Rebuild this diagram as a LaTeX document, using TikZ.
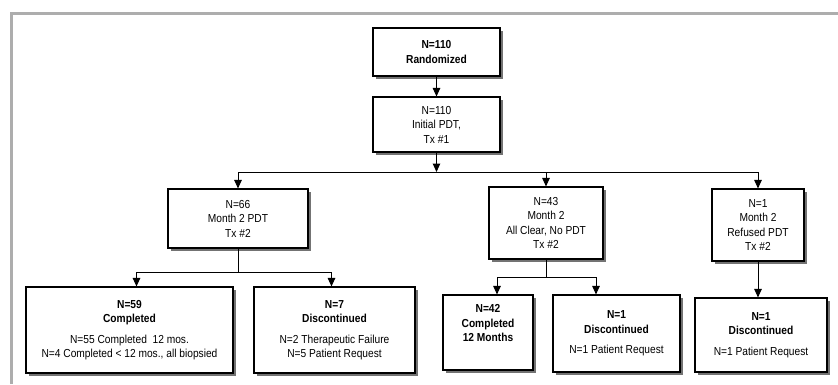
\documentclass[tikz,border=0pt]{standalone}
\usepackage{fontspec}
\setmainfont[FakeStretch=0.88]{Liberation Sans}
\usetikzlibrary{arrows.meta,shadows}
\begin{document}
\begin{tikzpicture}[x=1pt,y=-1pt,
  box/.style={draw=black, line width=1.1pt, fill=white, align=center, inner sep=2pt,
    font=\fontsize{11.6}{14.5}\selectfont,
    drop shadow={shadow xshift=3pt, shadow yshift=-3pt, fill=black!55, opacity=1}},
  arr/.style={line width=1pt, -{Triangle[width=7.5pt,length=8.5pt]}},
  ln/.style={line width=1pt}]
\useasboundingbox (0,0) rectangle (838,384);
\fill[white] (0,0) rectangle (838,384);
\draw[black!32, line width=3pt] (11,384) -- (11,13) -- (838,13);

\node[box, minimum width=127pt, minimum height=48pt] (r) at (436.5,52) {\textbf{N=110}\\\textbf{Randomized}};
\node[box, minimum width=127pt, minimum height=55pt] (i) at (436.5,124.5) {N=110\\Initial PDT,\\Tx \#1};
\node[box, minimum width=140pt, minimum height=59pt] (a) at (238,218.5) {N=66\\Month 2 PDT\\Tx \#2};
\node[box, minimum width=114pt, minimum height=72pt] (b) at (546,223) {N=43\\Month 2\\All Clear, No PDT\\Tx \#2};
\node[box, minimum width=92pt, minimum height=72pt] (c) at (758,225) {N=1\\Month 2\\Refused PDT\\Tx \#2};
\node[box, minimum width=207pt, minimum height=86pt] (d) at (129.5,330) {\textbf{N=59}\\\textbf{Completed}\\[6pt]N=55 Completed\ \ 12 mos.\\N=4 Completed {<} 12 mos., all biopsied};
\node[box, minimum width=161pt, minimum height=86pt] (e) at (334.5,330) {\textbf{N=7}\\\textbf{Discontinued}\\[6pt]N=2 Therapeutic Failure\\N=5 Patient Request};
\node[box, minimum width=90pt, minimum height=75pt] (f) at (488,332.5) {\textbf{N=42}\\\textbf{Completed}\\\textbf{12 Months}\\[4pt]~};
\node[box, minimum width=127pt, minimum height=77pt] (g) at (616.5,333.5) {\textbf{N=1}\\\textbf{Discontinued}\\[6pt]N=1 Patient Request};
\node[box, minimum width=132pt, minimum height=74pt] (h) at (761,335) {\textbf{N=1}\\\textbf{Discontinued}\\[6pt]N=1 Patient Request};

\coordinate (hub1) at (436.5,172);
\coordinate (hub2) at (238,272);
\coordinate (hub3) at (546,277);

\draw[arr] (r.south) -- (i.north);
\draw[arr] (i.south) -- (hub1);
\draw[arr] (hub1) -| (a.north);
\draw[arr] (hub1) -| (b.north);
\draw[arr] (hub1) -| (c.north);

\draw[ln] (a.south) -- (hub2);
\draw[arr] (hub2) -| ([xshift=7pt]d.north);
\draw[arr] (hub2) -| ([xshift=-3pt]e.north);

\draw[ln] (b.south) -- (hub3);
\draw[arr] (hub3) -| ([xshift=9pt]f.north);
\draw[arr] (hub3) -| ([xshift=-20.5pt]g.north);

\draw[arr] (c.south) -- (c.south |- h.north);
\end{tikzpicture}
\end{document}
